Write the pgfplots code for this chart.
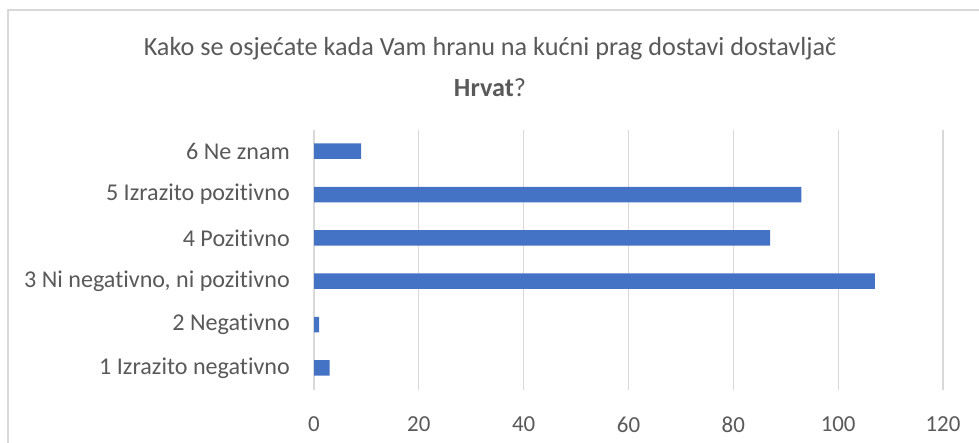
\documentclass[border=0pt]{standalone}
\usepackage{fontspec}
\setmainfont{Carlito}[Ligatures=NoCommon]
\usepackage{pgfplots}
\pgfplotsset{compat=1.18}
\definecolor{barblue}{HTML}{4472C4}
\definecolor{gridgray}{HTML}{D9D9D9}
\definecolor{txt}{HTML}{595959}
\begin{document}
\begin{tikzpicture}[x=1bp,y=1bp]
\useasboundingbox (0,0) rectangle (979,-443);
\draw[gridgray, line width=1.2bp] (8,-443) -- (8,-10) -- (979,-10);
\node[txt, font=\fontsize{26.3}{41}\selectfont, align=center] at (490,-67)
  {Kako se osjećate kada Vam hranu na kućni prag dostavi dostavljač\\\textbf{Hrvat}?};
\begin{axis}[at={(314bp,-389.5bp)}, anchor=south west, scale only axis,
  width=629bp, height=260bp,
  xbar, bar width=15.5bp,
  xmin=0, xmax=120, ymin=0.5, ymax=6.5,
  xtick={0,20,...,120},
  ytick={1,...,6},
  yticklabels={1 Izrazito negativno, 2 Negativno, {3 Ni negativno, ni pozitivno}, 4 Pozitivno, 5 Izrazito pozitivno, 6 Ne znam},
  axis line style={draw=none}, major tick length=0,
  xmajorgrids, grid style={gridgray, line width=1.2bp},
  tick label style={txt, font=\fontsize{23}{28}\selectfont, inner sep=0pt},
  /pgf/number format/assume math mode=true,
  yticklabel style={anchor=east, xshift=-24bp, font=\fontsize{24.2}{28}\selectfont},
  xticklabel style={anchor=north, yshift=-27bp},
]
\addplot[fill=barblue, draw=none] coordinates {(3,1) (1,2) (107,3) (87,4) (93,5) (9,6)};
\end{axis}
\end{tikzpicture}
\end{document}
